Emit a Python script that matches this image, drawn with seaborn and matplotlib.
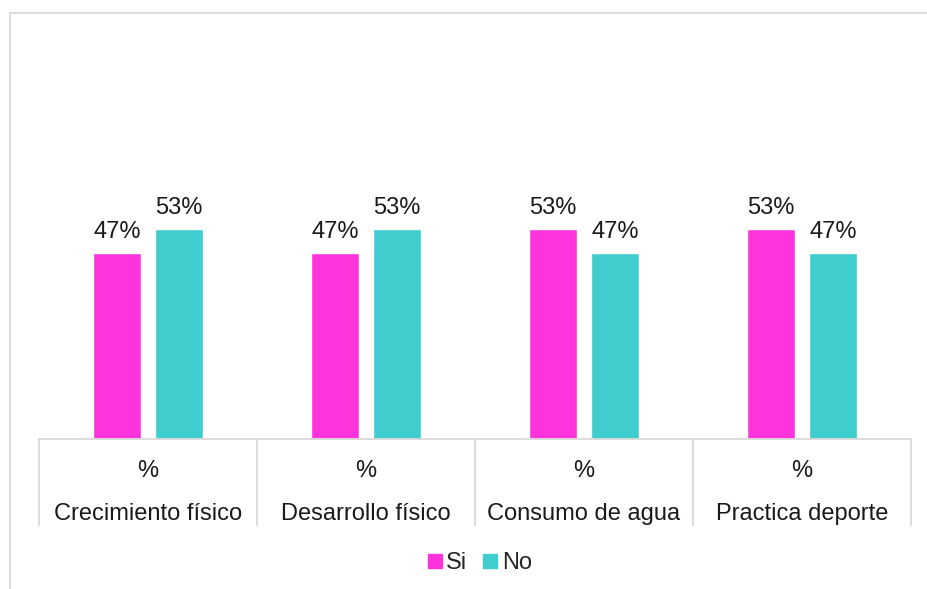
import matplotlib
matplotlib.use("Agg")
import matplotlib.pyplot as plt
from matplotlib.patches import Rectangle
from matplotlib.lines import Line2D
import seaborn as sns
import pandas as pd

categories = ["Crecimiento físico", "Desarrollo físico", "Consumo de agua", "Practica deporte"]
unit_label = "%"
si_values = [0.47, 0.47, 0.53, 0.53]
no_values = [0.53, 0.53, 0.47, 0.47]
series_names = ["Si", "No"]
colors = ["#FF33DC", "#3FCDCD"]

df = pd.DataFrame({
    "categoria": categories * 2,
    "serie": [series_names[0]] * 4 + [series_names[1]] * 4,
    "valor": si_values + no_values,
})

sns.set_theme(style="white")
plt.rcParams["font.family"] = ["Liberation Sans", "DejaVu Sans"]

FS = 17
TXT = "#1a1a1a"

fig = plt.figure(figsize=(9.27, 5.89), dpi=100)
ax = fig.add_axes([39 / 927, 1 - 439 / 589, (911 - 39) / 927, (439 - 43) / 589])

sns.barplot(data=df, x="categoria", y="valor", hue="serie", palette=colors,
            width=0.57, gap=0.23, ax=ax, legend=False, saturation=1)

ax.set_ylim(0, 1.0)
ax.set_xlim(-0.5, len(categories) - 0.5)
ax.set_xlabel("")
ax.set_ylabel("")
ax.set_yticks([])
for side in ["left", "right", "top"]:
    ax.spines[side].set_visible(False)
ax.spines["bottom"].set_color("#d9d9d9")
ax.spines["bottom"].set_linewidth(1.3)

# value labels
for container in ax.containers:
    ax.bar_label(container, labels=[f"{v * 100:.0f}%" for v in container.datavalues],
                 padding=7, fontsize=FS, color=TXT)

# category separators as long tick marks
ax.set_xticks([i - 0.5 for i in range(len(categories) + 1)])
ax.set_xticklabels([])
ax.tick_params(axis="x", which="major", length=62.5, width=1.3, color="#d9d9d9",
               direction="out", bottom=True)
ax.set_xticks(range(len(categories)), minor=True)
ax.set_xticklabels([f"{unit_label}\n{c}" for c in categories], minor=True,
                   fontsize=FS, color=TXT, linespacing=2.25)
ax.tick_params(axis="x", which="minor", length=0, pad=15)

# outer chart frame
fig.patches.append(Rectangle((10 / 927, -0.2), 1.2, 1.2 - 13 / 589,
                             transform=fig.transFigure, fill=False,
                             edgecolor="#d9d9d9", linewidth=1.3, zorder=0))

handles = [Line2D([], [], marker="s", linestyle="", markersize=9.5,
                  markerfacecolor=c, markeredgecolor=c) for c in colors]
fig.legend(handles, series_names, loc="center", bbox_to_anchor=(479 / 927, 1 - 563 / 589),
           ncol=2, frameon=False, fontsize=FS, handletextpad=0.15, columnspacing=0.6,
           handlelength=0.7)

fig.savefig("out.png", dpi=100)
